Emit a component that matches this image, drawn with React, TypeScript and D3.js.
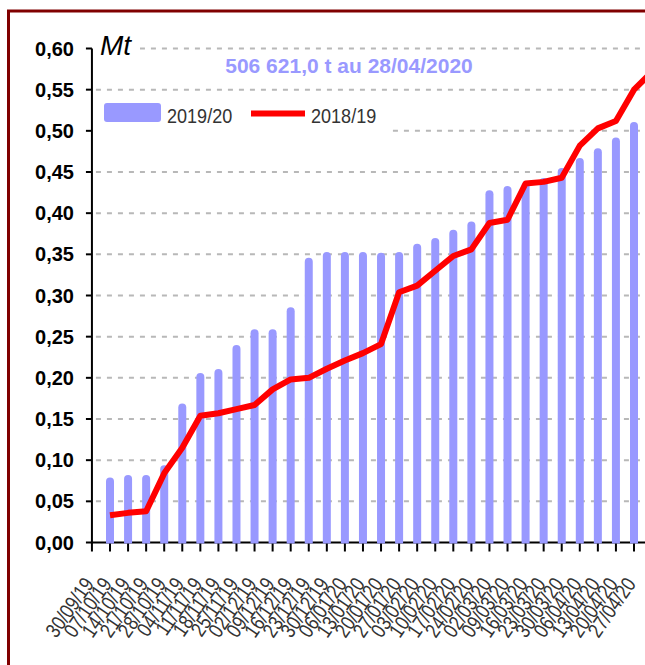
import React, { useEffect, useRef } from 'react';
import * as d3 from 'd3';

// weekly dates on the x axis (tick positions 0..30)
const dates = [
  "30/09/19", "07/10/19", "14/10/19", "21/10/19", "28/10/19", "04/11/19", "11/11/19",
  "18/11/19", "25/11/19", "02/12/19", "09/12/19", "16/12/19", "23/12/19", "30/12/19",
  "06/01/20", "13/01/20", "20/01/20", "27/01/20", "03/02/20", "10/02/20", "17/02/20",
  "24/02/20", "02/03/20", "09/03/20", "16/03/20", "23/03/20", "30/03/20", "06/04/20",
  "13/04/20", "20/04/20", "27/04/20"
];

// 2019/20 campaign, Mt (starts at tick 1)
const season1920 = [
  0.074, 0.077, 0.077, 0.089, 0.164, 0.201, 0.206, 0.235, 0.254, 0.254,
  0.281, 0.341, 0.348, 0.348, 0.348, 0.347, 0.348, 0.358, 0.365, 0.375,
  0.385, 0.423, 0.428, 0.433, 0.438, 0.450, 0.462, 0.474, 0.487, 0.506
];

// 2018/19 campaign, Mt (starts at tick 1, one point past the last label)
const season1819 = [
  0.033, 0.036, 0.038, 0.084, 0.115, 0.154, 0.157, 0.162, 0.167, 0.186,
  0.198, 0.200, 0.211, 0.221, 0.230, 0.241, 0.304, 0.312, 0.330, 0.348,
  0.356, 0.388, 0.392, 0.436, 0.438, 0.443, 0.482, 0.503, 0.512, 0.550,
  0.572
];

const yTicks = [0, 0.05, 0.1, 0.15, 0.2, 0.25, 0.3, 0.35, 0.4, 0.45, 0.5, 0.55, 0.6];
const headline = "506 621,0 t au 28/04/2020";
const legendItems = ["2019/20", "2018/19"];

// no narrow font installed: squeeze the regular sans horizontally
const NARROW = "'Liberation Sans Narrow', 'Liberation Sans', Arial, sans-serif";
const SANS = "'Liberation Sans', Arial, sans-serif";
const LAVENDER = "#9999ff";
const SQUEEZE = 0.82;

const App: React.FC = () => {
  const svgRef = useRef<SVGSVGElement>(null);

  useEffect(() => {
    if (!svgRef.current) return;
    const svg = d3.select(svgRef.current);
    svg.selectAll("*").remove();

    const x = d3.scaleLinear().domain([1, 30]).range([110, 634]);
    const y = d3.scaleLinear().domain([0, 0.6]).range([542.5, 48.5]);
    const axisX = x(0);
    const fmt = (v: number) => d3.format(".2f")(v).replace(".", ",");

    // outer frame
    svg.append("rect")
      .attr("x", 8.5).attr("y", 11)
      .attr("width", 720).attr("height", 720)
      .attr("fill", "none")
      .attr("stroke", "#800000")
      .attr("stroke-width", 3);

    // gridlines
    svg.append("g").selectAll("line")
      .data(yTicks.filter(t => t > 0))
      .join("line")
      .attr("x1", axisX + 4).attr("x2", 670)
      .attr("y1", d => y(d)).attr("y2", d => y(d))
      .attr("stroke", "#b8b8b8")
      .attr("stroke-width", 2)
      .attr("stroke-dasharray", "5,6");

    // white boxes behind unit label and legend
    svg.append("rect").attr("x", axisX + 2).attr("y", 30).attr("width", 46).attr("height", 30).attr("fill", "#fff");
    svg.append("rect").attr("x", axisX + 2).attr("y", 96).attr("width", 296).attr("height", 40).attr("fill", "#fff");

    // axes
    svg.append("line")
      .attr("x1", axisX).attr("x2", axisX)
      .attr("y1", y(0.6)).attr("y2", y(0) + 1)
      .attr("stroke", "#000").attr("stroke-width", 2);
    svg.append("line")
      .attr("x1", axisX - 1).attr("x2", 670)
      .attr("y1", y(0)).attr("y2", y(0))
      .attr("stroke", "#000").attr("stroke-width", 2);

    svg.append("g").selectAll("line")
      .data(yTicks)
      .join("line")
      .attr("x1", axisX - 6).attr("x2", axisX)
      .attr("y1", d => y(d)).attr("y2", d => y(d))
      .attr("stroke", "#000").attr("stroke-width", 2);

    svg.append("g").selectAll("line")
      .data(dates)
      .join("line")
      .attr("x1", (_, i) => x(i)).attr("x2", (_, i) => x(i))
      .attr("y1", y(0)).attr("y2", y(0) + 9)
      .attr("stroke", "#000").attr("stroke-width", 2);

    // y labels
    svg.append("g").selectAll("text")
      .data(yTicks)
      .join("text")
      .attr("x", 74)
      .attr("y", d => y(d))
      .attr("text-anchor", "end")
      .attr("dominant-baseline", "central")
      .attr("font-family", SANS)
      .attr("font-weight", "bold")
      .attr("font-size", "20px")
      .attr("fill", "#000")
      .text(d => fmt(d));

    // x labels
    svg.append("g").selectAll("text")
      .data(dates)
      .join("text")
      .attr("transform", (_, i) => `translate(${x(i) - 3},580) rotate(-55) scale(${SQUEEZE},1)`)
      .attr("text-anchor", "end")
      .attr("dominant-baseline", "central")
      .attr("font-family", NARROW)
      .attr("font-size", "21px")
      .attr("fill", "#333")
      .text(d => d);

    // bars with rounded tops
    const r = 4;
    svg.append("g").selectAll("path")
      .data(season1920)
      .join("path")
      .attr("d", (d, i) => {
        const cx = x(i + 1);
        const top = y(d);
        const bottom = y(0) + 1;
        return `M${cx - r},${bottom} V${top} A${r},${r} 0 0 1 ${cx + r},${top} V${bottom} Z`;
      })
      .attr("fill", LAVENDER);

    // 2018/19 line
    const line = d3.line<number>()
      .x((_, i) => x(i + 1))
      .y(d => y(d));

    svg.append("path")
      .datum(season1819)
      .attr("d", line)
      .attr("fill", "none")
      .attr("stroke", "#ff0000")
      .attr("stroke-width", 6)
      .attr("stroke-linejoin", "round");

    // unit + headline
    svg.append("text")
      .attr("x", 100).attr("y", 55)
      .attr("font-family", SANS)
      .attr("font-style", "italic")
      .attr("font-size", "28px")
      .attr("fill", "#000")
      .text("Mt");

    svg.append("text")
      .attr("x", 349).attr("y", 73)
      .attr("text-anchor", "middle")
      .attr("font-family", SANS)
      .attr("font-weight", "bold")
      .attr("font-size", "21px")
      .attr("fill", LAVENDER)
      .text(headline);

    // legend
    const lg = svg.append("g");
    lg.append("rect")
      .attr("x", 104).attr("y", 103)
      .attr("width", 57).attr("height", 19)
      .attr("rx", 3)
      .attr("fill", LAVENDER);
    lg.append("text")
      .attr("transform", `translate(167,123) scale(${SQUEEZE + 0.04},1)`)
      .attr("font-family", NARROW)
      .attr("font-size", "21px")
      .attr("fill", "#333")
      .text(legendItems[0]);
    lg.append("line")
      .attr("x1", 251).attr("x2", 305)
      .attr("y1", 113.5).attr("y2", 113.5)
      .attr("stroke", "#ff0000")
      .attr("stroke-width", 6);
    lg.append("text")
      .attr("transform", `translate(311,123) scale(${SQUEEZE + 0.04},1)`)
      .attr("font-family", NARROW)
      .attr("font-size", "21px")
      .attr("fill", "#333")
      .text(legendItems[1]);
  }, []);

  return (
    <svg
      ref={svgRef}
      width={645}
      height={665}
      style={{ position: 'absolute', left: 0, top: 0, background: '#fff', display: 'block' }}
    />
  );
};

export default App;
